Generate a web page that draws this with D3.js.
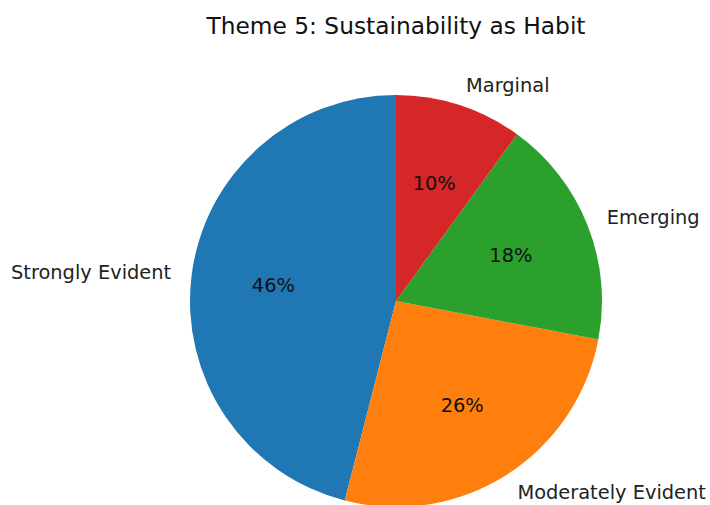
<!DOCTYPE html>
<html>
<head>
<meta charset="utf-8">
<script src="https://cdn.jsdelivr.net/npm/d3@7"></script>
<style>
  html, body { margin: 0; padding: 0; background: #fff; }
  svg { display: block; font-family: "DejaVu Sans", sans-serif; }
</style>
</head>
<body>
<svg id="chart" width="710" height="505"></svg>
<script>
// Theme 5 category shares (percent)
const categories = ["Strongly Evident", "Moderately Evident", "Emerging", "Marginal"];
const values = [46, 26, 18, 10];
const colors = ["#1f77b4", "#ff7f0e", "#2ca02c", "#d62728"];
const title = "Theme 5: Sustainability as Habit";

const svg = d3.select("#chart");
const cx = 396, cy = 301, r = 206;

svg.append("text")
  .attr("x", cx).attr("y", 25)
  .attr("text-anchor", "middle")
  .attr("dominant-baseline", "central")
  .attr("font-size", 23.3)
  .attr("fill", "#111")
  .text(title);

// Slices start at 12 o'clock and run counter-clockwise
const pie = d3.pie().sort(null).startAngle(0).endAngle(-2 * Math.PI);
const arcs = pie(values);
const arc = d3.arc().innerRadius(0).outerRadius(r);
const color = d3.scaleOrdinal().domain(categories).range(colors);

const g = svg.append("g").attr("transform", `translate(${cx},${cy})`);

g.selectAll("path.slice")
  .data(arcs)
  .join("path")
  .attr("class", "slice")
  .attr("d", arc)
  .attr("fill", (d, i) => color(categories[i]));

const mid = d => (d.startAngle + d.endAngle) / 2;

// Category labels just outside the rim
g.selectAll("text.cat")
  .data(arcs)
  .join("text")
  .attr("class", "cat")
  .attr("x", d => 1.1 * r * Math.sin(mid(d)))
  .attr("y", d => -1.1 * r * Math.cos(mid(d)))
  .attr("text-anchor", d => Math.sin(mid(d)) >= 0 ? "start" : "end")
  .attr("dominant-baseline", "central")
  .attr("font-size", 19.4)
  .attr("fill", "#222")
  .text((d, i) => categories[i]);

// Percentage labels inside each slice
g.selectAll("text.pct")
  .data(arcs)
  .join("text")
  .attr("class", "pct")
  .attr("x", d => 0.6 * r * Math.sin(mid(d)))
  .attr("y", d => -0.6 * r * Math.cos(mid(d)))
  .attr("text-anchor", "middle")
  .attr("dominant-baseline", "central")
  .attr("font-size", 19.4)
  .attr("fill", "#111")
  .text(d => `${d.value.toFixed(0)}%`);
</script>
</body>
</html>
